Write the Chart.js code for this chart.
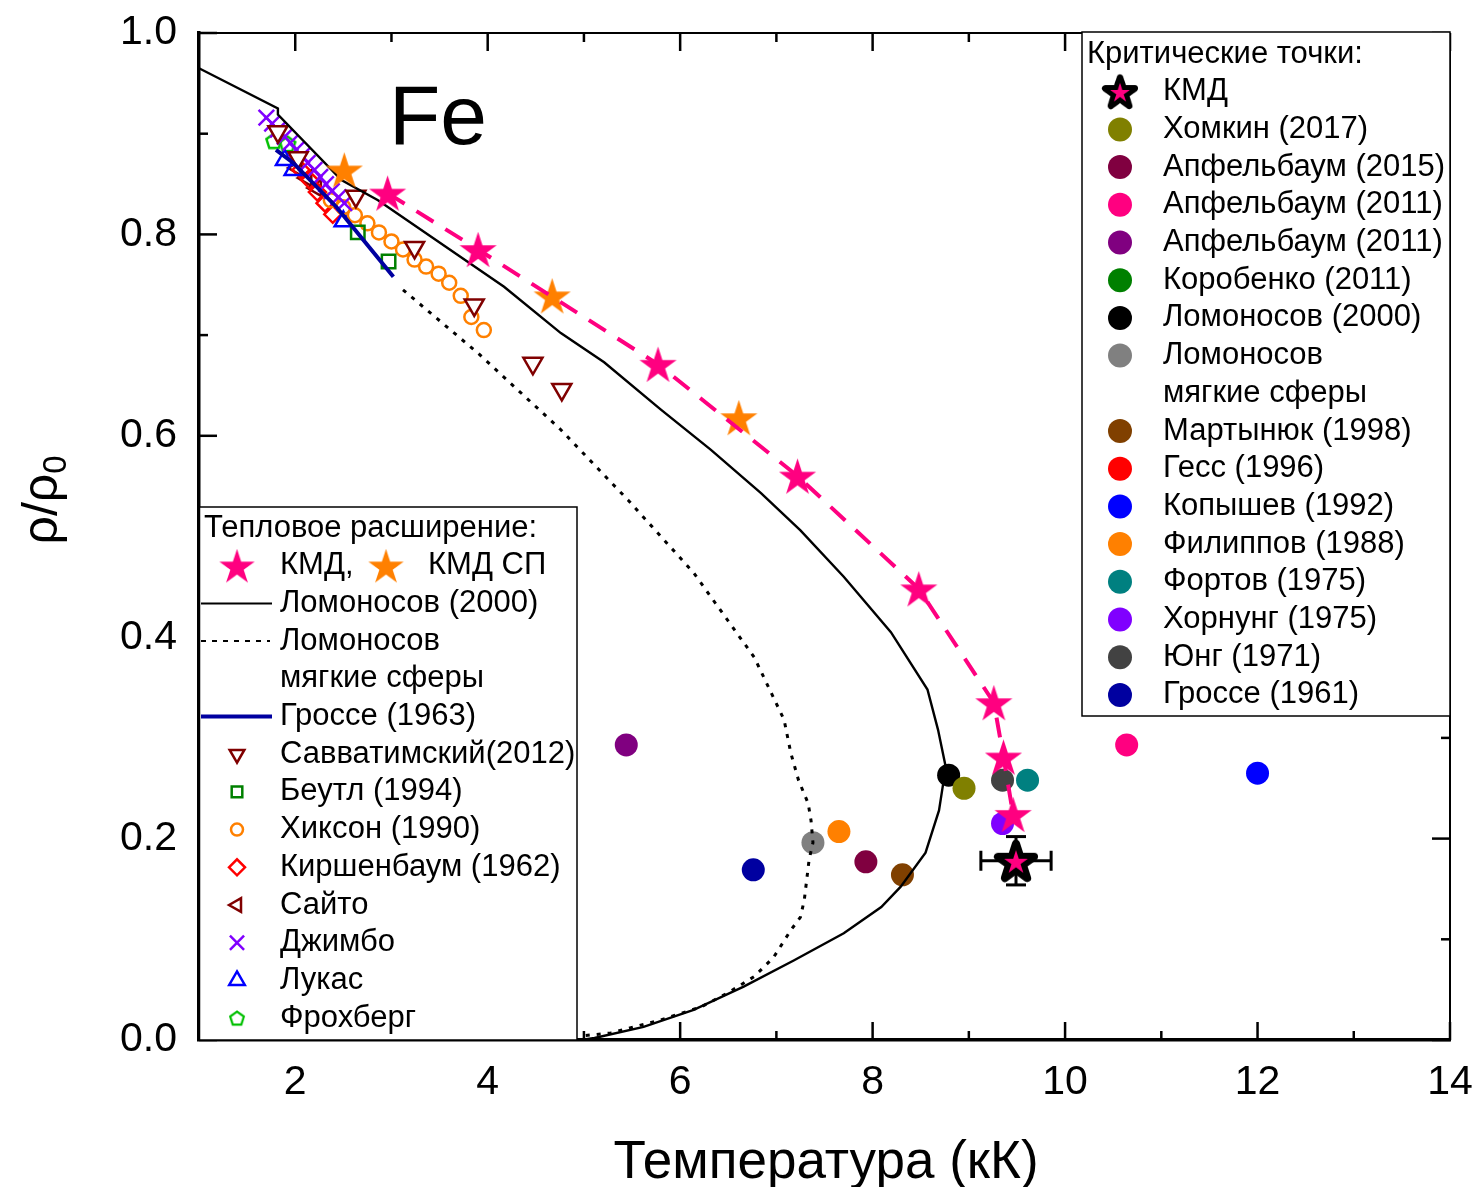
<!DOCTYPE html>
<html lang="ru">
<head>
<meta charset="utf-8">
<title>Fe: тепловое расширение и критические точки</title>
<script src="https://cdn.jsdelivr.net/npm/chart.js@4.4.1/dist/chart.umd.min.js"></script>
<style>
  html, body { margin: 0; padding: 0; background: #ffffff; }
  canvas { display: block; }
</style>
</head>
<body>
<canvas id="fe" width="1477" height="1187"></canvas>
<script>
// ---------- axes ----------
const xTickValues = [2, 4, 6, 8, 10, 12, 14];
const xMinorTickValues = [3, 5, 7, 9, 11, 13];
const yTickValues = [0, 0.2, 0.4, 0.6, 0.8, 1.0];
const yMinorTickValues = [0.1, 0.3, 0.5, 0.7, 0.9];

// ---------- thermal expansion (T in kK, rho/rho0) ----------
const kmdT   = [2.96, 3.90, 5.77, 7.22, 8.48, 9.26, 9.36, 9.46];
const kmdRho = [0.841, 0.785, 0.671, 0.560, 0.448, 0.335, 0.281, 0.224];

const kmdSpT   = [2.51, 4.67, 6.61];
const kmdSpRho = [0.864, 0.739, 0.618];

const lomonosovT   = [1.00, 1.82, 1.82, 2.48, 2.86, 4.17, 4.76, 5.21, 5.80, 6.32, 6.84, 7.25, 7.70, 8.19, 8.57, 8.68, 8.76, 8.69, 8.55, 8.29, 8.09, 7.70, 7.18, 6.66, 6.14, 5.62, 5.11, 4.97];
const lomonosovRho = [0.965, 0.925, 0.919, 0.854, 0.834, 0.748, 0.702, 0.673, 0.626, 0.586, 0.543, 0.506, 0.460, 0.405, 0.348, 0.308, 0.271, 0.228, 0.186, 0.152, 0.132, 0.106, 0.079, 0.053, 0.030, 0.013, 0.002, 0.0];

const softSphereT   = [3.12, 3.90, 4.76, 5.46, 6.14, 6.77, 7.08, 7.15, 7.23, 7.33, 7.36, 7.38, 7.34, 7.29, 7.25, 7.15, 6.97, 6.77, 6.50, 6.22, 5.80, 5.28, 4.97];
const softSphereRho = [0.745, 0.682, 0.606, 0.536, 0.464, 0.380, 0.318, 0.285, 0.258, 0.235, 0.218, 0.196, 0.179, 0.139, 0.122, 0.109, 0.082, 0.063, 0.047, 0.033, 0.020, 0.007, 0.004];

const grosse1963T   = [1.80, 1.98, 2.43, 3.02];
const grosse1963Rho = [0.884, 0.871, 0.827, 0.758];

const savvatimskyT   = [1.82, 2.03, 2.63, 3.24, 3.86, 4.47, 4.77];
const savvatimskyRho = [0.902, 0.876, 0.838, 0.787, 0.730, 0.672, 0.646];

const beutlT   = [2.65, 2.97];
const beutlRho = [0.802, 0.773];

const hixsonT   = [2.37, 2.50, 2.62, 2.75, 2.87, 3.00, 3.12, 3.24, 3.36, 3.49, 3.60, 3.72, 3.83, 3.96];
const hixsonRho = [0.834, 0.827, 0.819, 0.811, 0.802, 0.793, 0.785, 0.775, 0.768, 0.761, 0.752, 0.739, 0.718, 0.705];

const kirshenbaumT   = [2.06, 2.15, 2.23, 2.31, 2.39];
const kirshenbaumRho = [0.864, 0.854, 0.842, 0.831, 0.820];

const saitoT   = [2.02, 2.12, 2.22];
const saitoRho = [0.866, 0.856, 0.846];

const jimboT   = [1.70, 1.76, 1.82, 1.89, 1.95, 2.01, 2.07, 2.13, 2.20, 2.26, 2.32, 2.38, 2.45, 2.51];
const jimboRho = [0.916, 0.910, 0.904, 0.897, 0.891, 0.884, 0.878, 0.871, 0.864, 0.857, 0.850, 0.843, 0.837, 0.831];

const lucasT   = [1.89, 1.98, 2.50];
const lucasRho = [0.874, 0.864, 0.813];

const frohbergT   = [1.78, 1.92];
const frohbergRho = [0.893, 0.890];

// ---------- critical points ----------
const kmdCritT = [9.49];
const kmdCritRho = [0.178];
const kmdCritErrT = [0.365];
const kmdCritErrRho = [0.024];

const critLabels = ['Хомкин (2017)', 'Апфельбаум (2015)', 'Апфельбаум (2011)', 'Апфельбаум (2011)',
  'Коробенко (2011)', 'Ломоносов (2000)', 'Ломоносов\nмягкие сферы', 'Мартынюк (1998)', 'Гесс (1996)',
  'Копышев (1992)', 'Филиппов (1988)', 'Фортов (1975)', 'Хорнунг (1975)', 'Юнг (1971)', 'Гроссе (1961)'];
const critT   = [8.95, 7.93, 10.64, 5.44, null, 8.79, 7.38, 8.31, null, 12.00, 7.65, 9.61, 9.35, 9.35, 6.76];
const critRho = [0.250, 0.177, 0.293, 0.293, null, 0.263, 0.196, 0.164, null, 0.265, 0.207, 0.258, 0.215, 0.258, 0.169];
const critColors = ['#808000', '#800040', '#FF0080', '#800080', '#008000', '#000000', '#808080', '#804000',
  '#FF0000', '#0000FF', '#FF8000', '#008080', '#8000FF', '#424242', '#0000A0'];

// ---------- styling ----------
const FONT = '"Liberation Sans", Arial, sans-serif';
const PINK = '#FF0080', ORANGE = '#FF8000', NAVY = '#0000A0';
const LEGEND_FONT = `31px ${FONT}`;

function pts(xs, ys) {
  const out = [];
  xs.forEach((v, i) => { if (v !== null && ys[i] !== null) out.push({ x: v, y: ys[i] }); });
  return out;
}

// five-pointed star sprite (optionally with a thick dark outline)
function starImage(R, fill, edge, edgeW, innerR) {
  const pad = edge ? edgeW / 2 + 2 : 2;
  const size = Math.ceil(2 * (R + pad));
  const c = document.createElement('canvas');
  c.width = c.height = size;
  const g = c.getContext('2d');
  const cx = size / 2, cy = size / 2 + R * 0.095;
  const path = (rad) => {
    g.beginPath();
    for (let i = 0; i < 10; i++) {
      const a = -Math.PI / 2 + i * Math.PI / 5;
      const r = i % 2 ? rad * 0.382 : rad;
      g.lineTo(cx + r * Math.cos(a), cy + r * Math.sin(a));
    }
    g.closePath();
  };
  if (edge) {
    path(R);
    g.fillStyle = edge; g.fill();
    g.lineWidth = edgeW; g.lineJoin = 'round'; g.strokeStyle = edge; g.stroke();
    path(innerR);
    g.fillStyle = fill; g.fill();
  } else {
    path(R);
    g.fillStyle = fill; g.fill();
  }
  return c;
}

function pentagonImage(R, color, w) {
  const size = Math.ceil(2 * R + w + 3);
  const c = document.createElement('canvas');
  c.width = c.height = size;
  const g = c.getContext('2d');
  const cx = size / 2, cy = size / 2 + R * 0.1;
  g.beginPath();
  for (let i = 0; i < 5; i++) {
    const a = -Math.PI / 2 + i * 2 * Math.PI / 5;
    g.lineTo(cx + R * Math.cos(a), cy + R * Math.sin(a));
  }
  g.closePath();
  g.lineWidth = w; g.strokeStyle = color; g.stroke();
  return c;
}

const pinkStar = starImage(19.5, PINK);
const orangeStar = starImage(19.5, ORANGE);
const critStar = starImage(19, PINK, '#000000', 8, 12.5);
const pentagon = pentagonImage(8, '#00C000', 2.5);

// ---------- datasets ----------
const dsKmdCrit = { label: 'КМД', data: pts(kmdCritT, kmdCritRho), pointStyle: critStar, pointRadius: 22 };
const dsKmd = { label: 'КМД', data: pts(kmdT, kmdRho), showLine: true, borderColor: PINK, borderWidth: 4,
  borderDash: [20, 14], pointStyle: pinkStar, pointRadius: 18, fill: false };
const dsKmdSp = { label: 'КМД СП', data: pts(kmdSpT, kmdSpRho), pointStyle: orangeStar, pointRadius: 18 };
const dsGrosse63 = { label: 'Гроссе (1963)', data: pts(grosse1963T, grosse1963Rho), showLine: true,
  borderColor: NAVY, borderWidth: 4, pointRadius: 0, fill: false };
const dsLomonosov = { label: 'Ломоносов (2000)', data: pts(lomonosovT, lomonosovRho), showLine: true,
  borderColor: '#000', borderWidth: 2.4, pointRadius: 0, fill: false };
const dsSoft = { label: 'Ломоносов мягкие сферы', data: pts(softSphereT, softSphereRho), showLine: true,
  borderColor: '#000', borderWidth: 3, borderDash: [4, 7], pointRadius: 0, fill: false };

function markerSet(label, xs, ys, style, color, radius, rotation, bg) {
  return { label, data: pts(xs, ys), pointStyle: style, pointRadius: radius, pointRotation: rotation || 0,
    pointBorderColor: color, pointBorderWidth: 2.5, pointBackgroundColor: bg || 'rgba(0,0,0,0)' };
}
const dsSavv = markerSet('Савватимский(2012)', savvatimskyT, savvatimskyRho, 'triangle', '#800000', 11, 180, '#ffffff');
const dsBeutl = markerSet('Беутл (1994)', beutlT, beutlRho, 'rect', '#008000', 9.5);
const dsHixson = markerSet('Хиксон (1990)', hixsonT, hixsonRho, 'circle', ORANGE, 7);
const dsKirsh = markerSet('Киршенбаум (1962)', kirshenbaumT, kirshenbaumRho, 'rectRot', '#FF0000', 8.5);
const dsSaito = markerSet('Сайто', saitoT, saitoRho, 'triangle', '#800000', 9, 270);
const dsJimbo = markerSet('Джимбо', jimboT, jimboRho, 'crossRot', '#8000FF', 11);
const dsLucas = markerSet('Лукас', lucasT, lucasRho, 'triangle', '#0000FF', 10);
const dsFroh = { label: 'Фрохберг', data: pts(frohbergT, frohbergRho), pointStyle: pentagon, pointRadius: 8 };

const critSets = critLabels.map((lab, i) => ({
  label: lab,
  data: pts([critT[i]], [critRho[i]]),
  pointStyle: 'circle', pointRadius: 11.5, pointBorderWidth: 0,
  pointBackgroundColor: critColors[i], pointBorderColor: critColors[i]
}));

// first in the list is painted on top
const datasets = [dsKmdCrit, dsKmd, dsKmdSp, dsGrosse63, dsLomonosov, dsSoft,
  dsSavv, dsJimbo, dsBeutl, dsHixson, dsLucas, dsKirsh, dsSaito, dsFroh, ...critSets];

// ---------- drawing helpers ----------
function seg(ctx, x0, y0, x1, y1) { ctx.beginPath(); ctx.moveTo(x0, y0); ctx.lineTo(x1, y1); ctx.stroke(); }

function drawMarker(ctx, ds, x, y, radius, imgScale) {
  const style = ds.pointStyle;
  if (style instanceof HTMLCanvasElement) {
    const s = imgScale || 1;
    ctx.drawImage(style, x - style.width * s / 2, y - style.height * s / 2, style.width * s, style.height * s);
    return;
  }
  ctx.save();
  ctx.fillStyle = ds.pointBackgroundColor || 'rgba(0,0,0,0)';
  ctx.strokeStyle = ds.pointBorderColor || 'rgba(0,0,0,0)';
  ctx.lineWidth = ds.pointBorderWidth || 0;
  Chart.helpers.drawPoint(ctx, { pointStyle: style, radius: radius, rotation: ds.pointRotation || 0,
    borderWidth: ds.pointBorderWidth || 0 }, x, y);
  ctx.restore();
}

// keep the plot frame exactly where the axes are fitted
function noScalePadding(s) { s.paddingLeft = 0; s.paddingRight = 0; s.paddingTop = 0; s.paddingBottom = 0; }

// inward ticks on all four sides, the open frame edges and the error bars
const frameAndTicks = {
  id: 'frameAndTicks',
  beforeDatasetsDraw(chart) {
    const { ctx, chartArea: a, scales: { x, y } } = chart;
    ctx.save();
    ctx.strokeStyle = '#000';
    ctx.lineWidth = 2;
    seg(ctx, a.left, a.top, a.right, a.top);
    seg(ctx, a.right, a.top, a.right, a.bottom);
    ctx.lineWidth = 2.5;
    const MAJ = 18, MIN = 9;
    xTickValues.forEach(v => { const p = x.getPixelForValue(v); seg(ctx, p, a.bottom, p, a.bottom - MAJ); seg(ctx, p, a.top, p, a.top + MAJ); });
    xMinorTickValues.forEach(v => { const p = x.getPixelForValue(v); seg(ctx, p, a.bottom, p, a.bottom - MIN); seg(ctx, p, a.top, p, a.top + MIN); });
    yTickValues.forEach(v => { const p = y.getPixelForValue(v); seg(ctx, a.left, p, a.left + MAJ, p); seg(ctx, a.right, p, a.right - MAJ, p); });
    yMinorTickValues.forEach(v => { const p = y.getPixelForValue(v); seg(ctx, a.left, p, a.left + MIN, p); seg(ctx, a.right, p, a.right - MIN, p); });

    // error bars of the critical point
    ctx.lineWidth = 3;
    kmdCritT.forEach((t, i) => {
      const cx = x.getPixelForValue(t), cy = y.getPixelForValue(kmdCritRho[i]);
      const xl = x.getPixelForValue(t - kmdCritErrT[i]), xr = x.getPixelForValue(t + kmdCritErrT[i]);
      const yt = y.getPixelForValue(kmdCritRho[i] + kmdCritErrRho[i]), yb = y.getPixelForValue(kmdCritRho[i] - kmdCritErrRho[i]);
      const cap = 10;
      seg(ctx, xl, cy, xr, cy);
      seg(ctx, xl, cy - cap, xl, cy + cap);
      seg(ctx, xr, cy - cap, xr, cy + cap);
      seg(ctx, cx, yt, cx, yb);
      seg(ctx, cx - cap, yt, cx + cap, yt);
      seg(ctx, cx - cap, yb, cx + cap, yb);
    });
    ctx.restore();
  },

  afterDatasetsDraw(chart) {
    const ctx = chart.ctx;
    ctx.save();
    ctx.fillStyle = '#000';
    ctx.textBaseline = 'alphabetic';
    ctx.font = `84px ${FONT}`;
    ctx.fillText('Fe', 389, 144);

    ctx.textBaseline = 'middle';
    ctx.font = LEGEND_FONT;

    // --- thermal expansion legend ---
    const L = { x0: 199.5, y0: 507, x1: 577, y1: 1040 };
    ctx.fillStyle = '#fff';
    ctx.fillRect(L.x0, L.y0, L.x1 - L.x0, L.y1 - L.y0);
    ctx.strokeStyle = '#000'; ctx.lineWidth = 1.5;
    ctx.strokeRect(L.x0, L.y0, L.x1 - L.x0, L.y1 - L.y0);
    const lrow = i => 528 + i * 37.7;
    const mx = 237, tx = 280;
    ctx.fillStyle = '#000';
    ctx.fillText('Тепловое расширение:', 204, lrow(0));
    drawMarker(ctx, dsKmd, mx, lrow(1), 0, 0.95);
    ctx.fillText('КМД,', tx, lrow(1));
    drawMarker(ctx, dsKmdSp, 386, lrow(1), 0, 0.95);
    ctx.fillText('КМД СП', 428, lrow(1));

    ctx.setLineDash([]);
    ctx.strokeStyle = '#000'; ctx.lineWidth = 2;
    seg(ctx, 201, lrow(2), 272, lrow(2));
    ctx.fillText(dsLomonosov.label, tx, lrow(2));
    ctx.setLineDash([5, 6]);
    seg(ctx, 201, lrow(3), 270, lrow(3));
    ctx.setLineDash([]);
    ctx.fillText('Ломоносов', tx, lrow(3));
    ctx.fillText('мягкие сферы', tx, lrow(4));
    ctx.strokeStyle = NAVY; ctx.lineWidth = 4;
    seg(ctx, 201, lrow(5), 272, lrow(5));
    ctx.fillText(dsGrosse63.label, tx, lrow(5));

    const leftMarkers = [[dsSavv, 8.5], [dsBeutl, 7.5], [dsHixson, 6], [dsKirsh, 8], [dsSaito, 8], [dsJimbo, 10], [dsLucas, 9], [dsFroh, 0]];
    leftMarkers.forEach(([ds, r], k) => {
      drawMarker(ctx, ds, mx, lrow(6 + k), r, 0.9);
      ctx.fillStyle = '#000';
      ctx.fillText(ds.label, tx, lrow(6 + k));
    });

    // --- critical point legend ---
    const R = { x0: 1082, y0: 32, x1: 1450, y1: 716 };
    ctx.fillStyle = '#fff';
    ctx.fillRect(R.x0, R.y0, R.x1 - R.x0, R.y1 - R.y0);
    ctx.strokeStyle = '#000'; ctx.lineWidth = 1.5;
    ctx.strokeRect(R.x0, R.y0, R.x1 - R.x0, R.y1 - R.y0);
    const rrow = i => 54 + i * 37.7;
    const rmx = 1120, rtx = 1163;
    ctx.fillStyle = '#000';
    ctx.fillText('Критические точки:', 1087, rrow(0));
    drawMarker(ctx, dsKmdCrit, rmx, rrow(1), 0, 0.82);
    ctx.fillStyle = '#000';
    ctx.fillText(dsKmdCrit.label, rtx, rrow(1));
    let r = 2;
    critSets.forEach(ds => {
      drawMarker(ctx, ds, rmx, rrow(r), 12);
      ctx.fillStyle = '#000';
      const lines = ds.label.split('\n');
      lines.forEach((s, j) => ctx.fillText(s, rtx, rrow(r + j)));
      r += lines.length;
    });
    ctx.restore();
  },

  afterDraw(chart) {
    const ctx = chart.ctx;
    ctx.save();
    ctx.fillStyle = '#000';
    ctx.textAlign = 'center';
    ctx.textBaseline = 'alphabetic';
    ctx.font = `53px ${FONT}`;
    ctx.fillText('Температура (кК)', 826, 1178);

    // rho/rho0 with subscript, rotated
    ctx.translate(57, 500);
    ctx.rotate(-Math.PI / 2);
    ctx.textAlign = 'left';
    ctx.font = `50px ${FONT}`;
    const w1 = ctx.measureText('ρ/ρ').width;
    ctx.font = `33px ${FONT}`;
    const w2 = ctx.measureText('0').width;
    const start = -(w1 + w2) / 2;
    ctx.font = `50px ${FONT}`;
    ctx.fillText('ρ/ρ', start, 0);
    ctx.font = `33px ${FONT}`;
    ctx.fillText('0', start + w1, 9);
    ctx.restore();
  }
};

new Chart(document.getElementById('fe').getContext('2d'), {
  type: 'scatter',
  data: { datasets },
  options: {
    responsive: false,
    animation: false,
    devicePixelRatio: 1,
    layout: { padding: { top: 33, right: 27, left: 0, bottom: 0 } },
    plugins: { legend: { display: false }, tooltip: { enabled: false } },
    scales: {
      x: {
        type: 'linear', position: 'bottom', min: 1, max: 14,
        afterFit(s) { s.height = 147; noScalePadding(s); },
        afterBuildTicks(s) { s.ticks = xTickValues.map(v => ({ value: v })); },
        grid: { display: false, drawTicks: false },
        border: { display: true, width: 3.5, color: '#000' },
        ticks: { color: '#000', font: { family: FONT, size: 41 }, padding: 18, maxRotation: 0, autoSkip: false,
          callback: v => String(v) }
      },
      y: {
        type: 'linear', position: 'left', min: 0, max: 1,
        afterFit(s) { s.width = 199; noScalePadding(s); },
        afterBuildTicks(s) { s.ticks = yTickValues.map(v => ({ value: v })); },
        grid: { display: false, drawTicks: false },
        border: { display: true, width: 3.5, color: '#000' },
        ticks: { color: '#000', font: { family: FONT, size: 41 }, padding: 22, autoSkip: false,
          callback: v => Number(v).toFixed(1) }
      }
    }
  },
  plugins: [frameAndTicks]
});
</script>
</body>
</html>
